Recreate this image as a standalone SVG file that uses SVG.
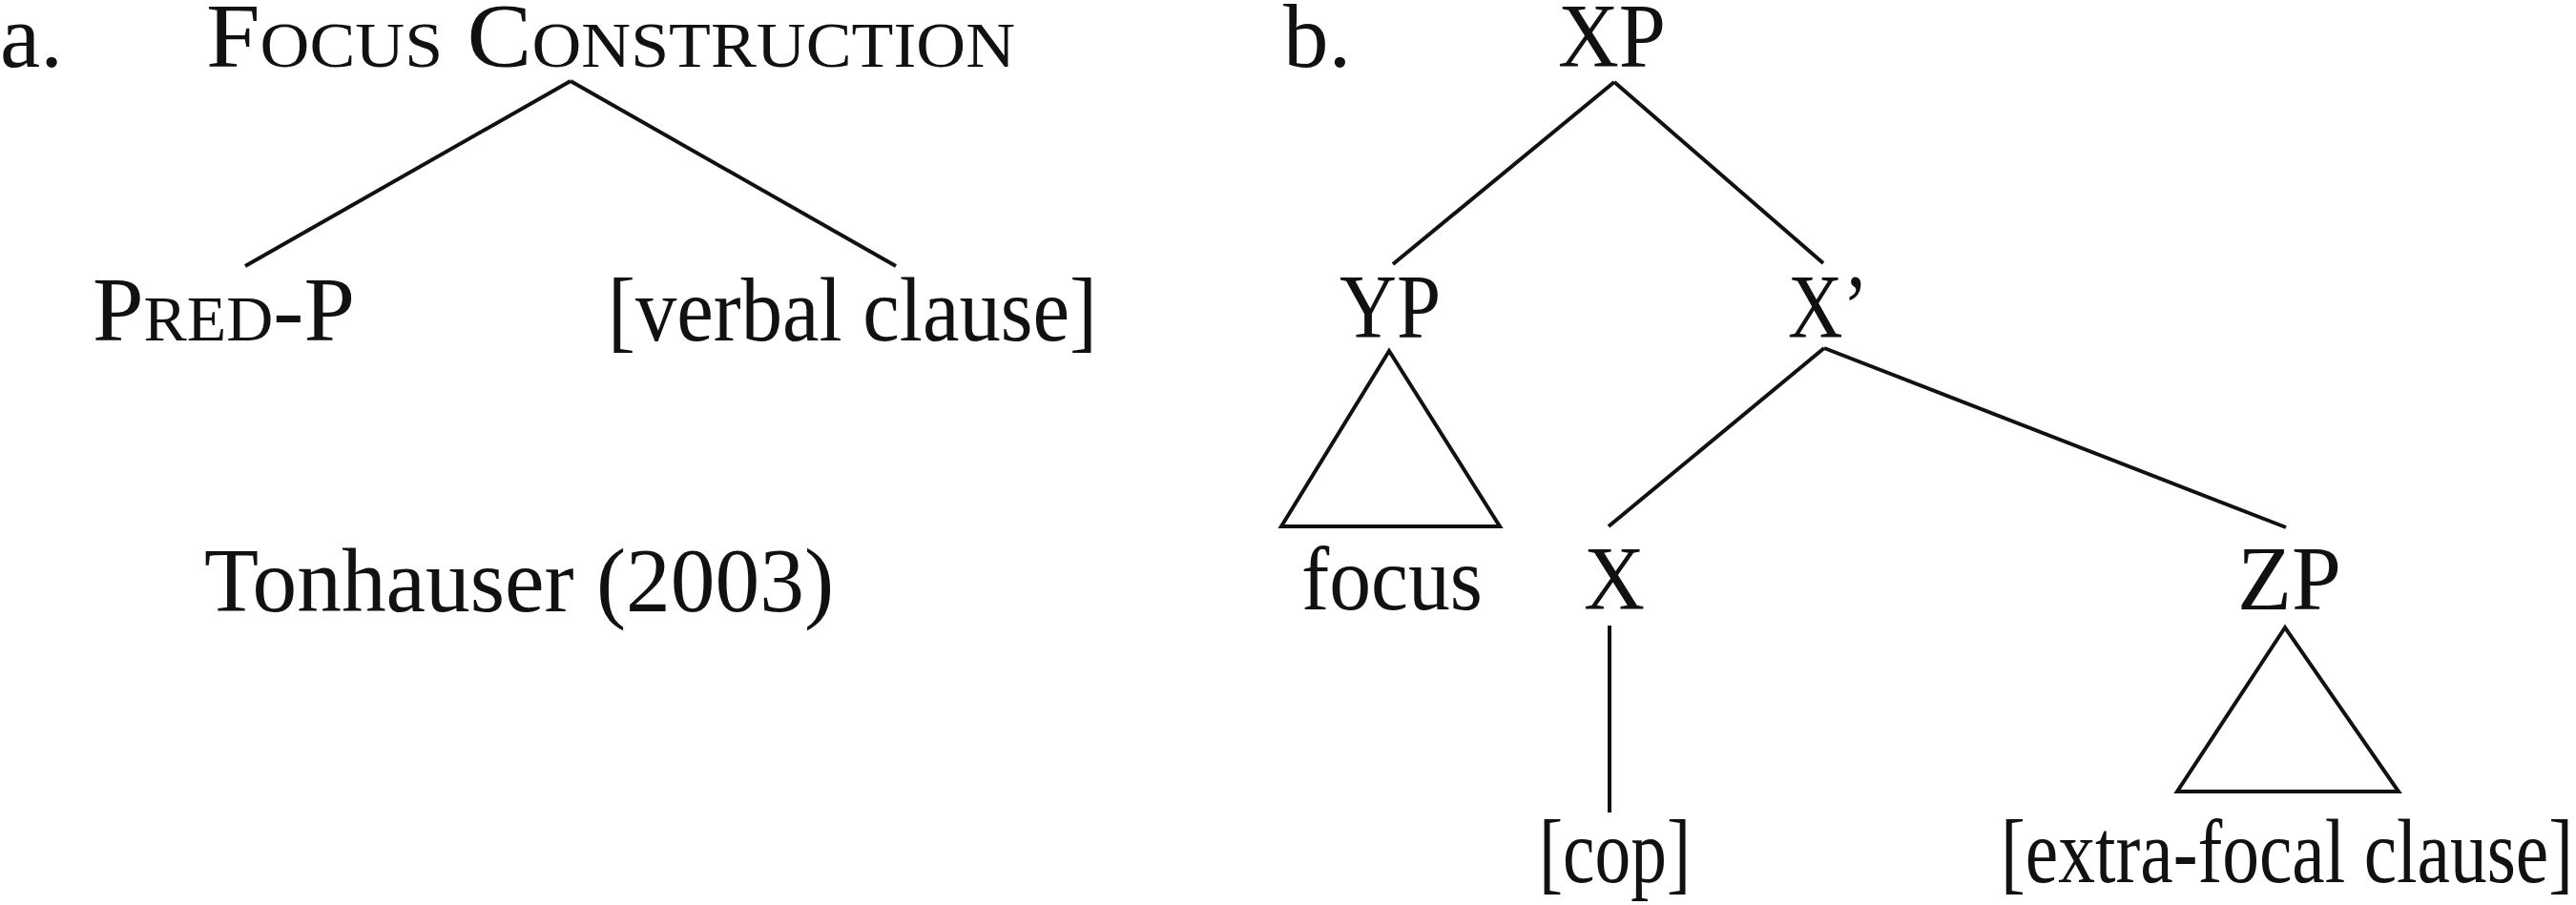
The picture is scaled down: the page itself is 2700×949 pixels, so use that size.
<svg xmlns="http://www.w3.org/2000/svg" width="2700" height="949" viewBox="0 0 2700 949">
<style>
text { font-family: "Liberation Serif", "DejaVu Serif", serif; font-size: 95px; fill: #111; }
.sc { font-variant: small-caps; }
.ln { stroke: #111; stroke-width: 4; fill: none; stroke-linejoin: miter; }
</style>
<rect width="2700" height="949" fill="#fff"/>
<g id="labels">
  <text x="0" y="70">a.</text>
  <text x="1345" y="70">b.</text>
</g>
<g id="connectors">
  <line class="ln" x1="598" y1="85" x2="257" y2="279"/>
  <line class="ln" x1="598" y1="85" x2="939" y2="279"/>
  <line class="ln" x1="1692" y1="86" x2="1460" y2="277"/>
  <line class="ln" x1="1692" y1="86" x2="1911" y2="276"/>
  <line class="ln" x1="1912" y1="365" x2="1686" y2="552"/>
  <line class="ln" x1="1912" y1="365" x2="2396" y2="553"/>
  <line class="ln" x1="1687" y1="656" x2="1687" y2="852"/>
</g>
<g id="node-focus-construction"><text class="sc" x="216" y="70" textLength="848" lengthAdjust="spacingAndGlyphs">Focus Construction</text></g>
<g id="node-pred-p"><text class="sc" x="97" y="357" textLength="275" lengthAdjust="spacingAndGlyphs">Pred-P</text></g>
<g id="node-verbal-clause"><text x="637" y="357" textLength="513" lengthAdjust="spacingAndGlyphs">[verbal clause]</text></g>
<g id="caption"><text x="214" y="641" textLength="660" lengthAdjust="spacingAndGlyphs">Tonhauser (2003)</text></g>
<g id="node-xp"><text x="1633" y="70" textLength="113" lengthAdjust="spacingAndGlyphs">XP</text></g>
<g id="node-yp">
  <text x="1404" y="354" textLength="106" lengthAdjust="spacingAndGlyphs">YP</text>
  <polygon class="ln" points="1456,368 1343,552 1572,552"/>
</g>
<g id="node-xbar"><text x="1874" y="354" textLength="84" lengthAdjust="spacingAndGlyphs">X’</text></g>
<g id="node-focus"><text x="1364" y="639" textLength="190" lengthAdjust="spacingAndGlyphs">focus</text></g>
<g id="node-x"><text x="1660" y="639" textLength="64" lengthAdjust="spacingAndGlyphs">X</text></g>
<g id="node-zp">
  <text x="2345" y="639" textLength="109" lengthAdjust="spacingAndGlyphs">ZP</text>
  <polygon class="ln" points="2395,658 2282,830 2514,830"/>
</g>
<g id="node-cop"><text x="1613" y="925" textLength="159" lengthAdjust="spacingAndGlyphs">[cop]</text></g>
<g id="node-extra-focal"><text x="2097" y="925" textLength="600" lengthAdjust="spacingAndGlyphs">[extra-focal clause]</text></g>
</svg>
